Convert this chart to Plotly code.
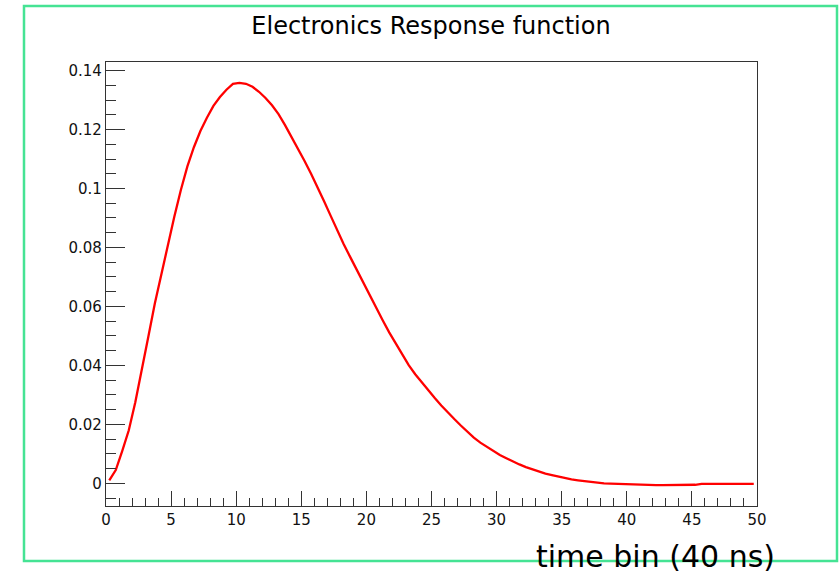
import plotly.graph_objects as go

# Electronics response sampled at half-bin centres (time in units of 40 ns bins)
time_bin = [0.25 + 0.5 * i for i in range(100)]
response = [
    0.0010, 0.0045, 0.0110, 0.0180, 0.0275, 0.0380, 0.0497, 0.0610, 0.0710, 0.0810,
    0.0905, 0.0995, 0.1075, 0.1140, 0.1195, 0.1240, 0.1280, 0.1310, 0.1335, 0.1355,
    0.1358, 0.1355, 0.1345, 0.1328, 0.1307, 0.1282, 0.1252, 0.1215, 0.1176, 0.1135,
    0.1093, 0.1050, 0.1005, 0.0957, 0.0908, 0.0858, 0.0812, 0.0768, 0.0724, 0.0680,
    0.0636, 0.0593, 0.0553, 0.0512, 0.0474, 0.0436, 0.0401, 0.0370, 0.0342, 0.0315,
    0.0289, 0.0264, 0.0240, 0.0218, 0.0196, 0.0175, 0.0155, 0.0138, 0.0123, 0.0109,
    0.0096, 0.0085, 0.0074, 0.0064, 0.0055, 0.0047, 0.0039, 0.0033, 0.0028, 0.0023,
    0.0017, 0.0013, 0.0010, 0.0007, 0.0004, 0.0002, 0.0000, -0.0001, -0.0002, -0.0003,
    -0.0004, -0.0005, -0.0006, -0.0006, -0.0006, -0.0006, -0.0006, -0.0006, -0.0006, -0.0006,
    -0.0005, -0.0002, -0.0002, -0.0002, -0.0002, -0.0002, -0.0002, -0.0002, -0.0002, -0.0002,
]

x_tick_vals = [0, 5, 10, 15, 20, 25, 30, 35, 40, 45, 50]
x_tick_text = ["0", "5", "10", "15", "20", "25", "30", "35", "40", "45", "50"]
y_tick_vals = [0, 0.02, 0.04, 0.06, 0.08, 0.10, 0.12, 0.14]
y_tick_text = ["0", "0.02", "0.04", "0.06", "0.08", "0.1", "0.12", "0.14"]

title_text = "Electronics Response function"
x_title_text = "time bin (40 ns)"

FONT = "DejaVu Sans"
W, H = 839, 573
L, R, T, B = 106, 82, 62, 67
pw, ph = W - L - R, H - T - B


def px_to_paper_x(px):
    return (px - L) / pw


def px_to_paper_y(py):
    return (H - B - py) / ph


fig = go.Figure()
fig.add_trace(go.Scatter(
    x=time_bin, y=response, mode="lines",
    line=dict(color="#ff0000", width=2.3),
    showlegend=False, hoverinfo="skip",
))

axis_line = "#333333"
fig.update_xaxes(
    range=[0, 50], tickmode="array", tickvals=x_tick_vals, ticktext=x_tick_text,
    ticks="inside", ticklen=15, tickwidth=1.3, tickcolor=axis_line,
    minor=dict(dtick=1, tick0=0, ticks="inside", ticklen=8, tickwidth=1.3, tickcolor=axis_line),
    showline=True, linecolor=axis_line, linewidth=1.4, mirror=True,
    showgrid=False, zeroline=False,
    tickfont=dict(family=FONT, size=15, color="#111"),
)
fig.update_yaxes(
    range=[-0.0077, 0.1429], tickmode="array", tickvals=y_tick_vals, ticktext=y_tick_text,
    ticks="inside", ticklen=19, tickwidth=1.3, tickcolor=axis_line,
    minor=dict(dtick=0.005, tick0=0, ticks="inside", ticklen=10, tickwidth=1.3, tickcolor=axis_line),
    showline=True, linecolor=axis_line, linewidth=1.4, mirror=True,
    showgrid=False, zeroline=False,
    tickfont=dict(family=FONT, size=15, color="#111"),
)

# outer canvas frame
fig.add_shape(
    type="rect", xref="paper", yref="paper",
    x0=px_to_paper_x(24), x1=px_to_paper_x(837),
    y0=px_to_paper_y(561), y1=px_to_paper_y(6),
    line=dict(color="#45e394", width=2.5), layer="below",
)

fig.add_annotation(
    text=x_title_text, xref="paper", yref="paper",
    x=px_to_paper_x(777), y=px_to_paper_y(556),
    xanchor="right", yanchor="middle", showarrow=False,
    font=dict(family=FONT, size=30, color="#000"),
)

fig.update_layout(
    width=W, height=H,
    margin=dict(l=L, r=R, t=T, b=B),
    paper_bgcolor="white", plot_bgcolor="white",
    title=dict(
        text=title_text, xref="container", yref="container",
        x=431 / W, y=1 - 25.3 / H, xanchor="center", yanchor="middle",
        font=dict(family=FONT, size=24, color="#000"),
    ),
)

fig.write_html("out.html")
